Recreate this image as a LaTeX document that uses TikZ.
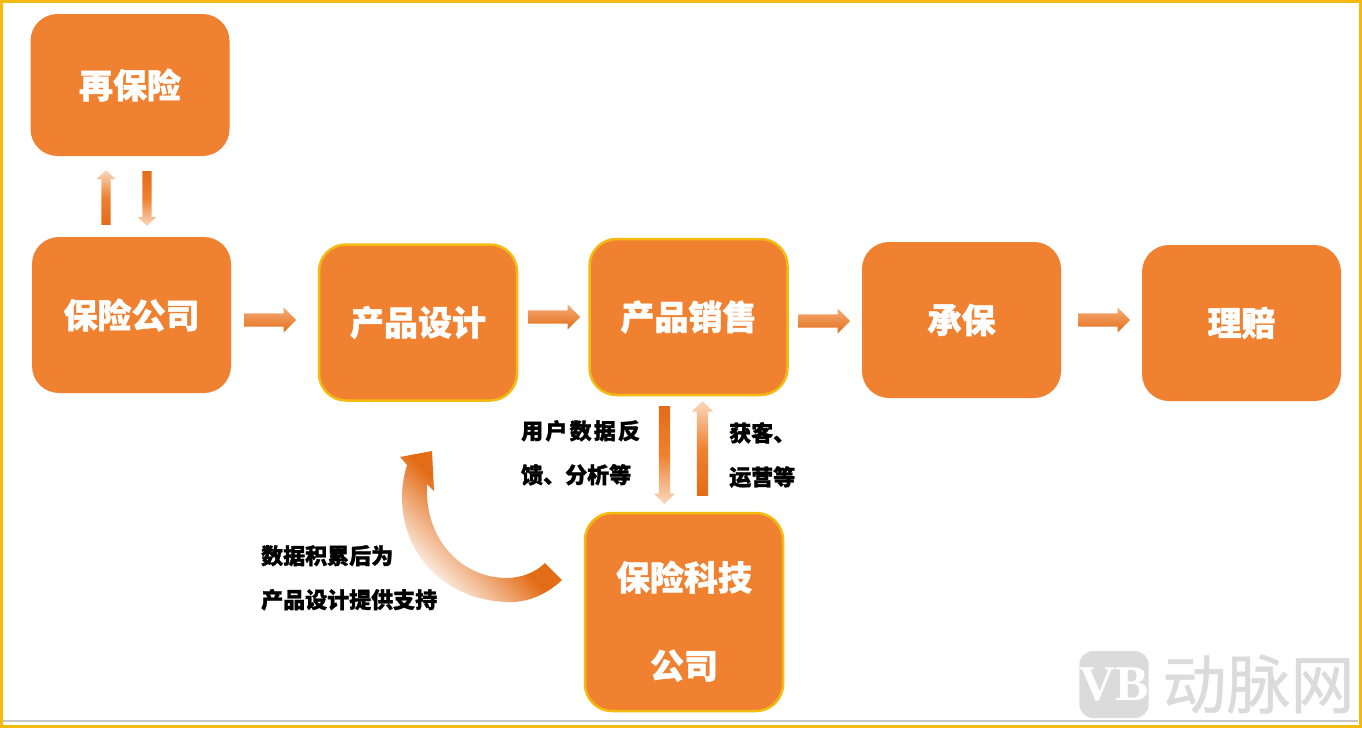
\documentclass[tikz,border=0pt]{standalone}
\usepackage{fontspec}
\setmainfont{Noto Sans CJK SC}[BoldFeatures={FakeBold=1.4}]
\newfontfamily\markfont{Liberation Serif}
\usetikzlibrary{shapes.arrows}
\definecolor{boxorange}{HTML}{EF8130}
\definecolor{rimyellow}{HTML}{F5BA12}
\definecolor{darkorange}{HTML}{E36C17}
\definecolor{paleorange}{HTML}{FAD9BF}
\definecolor{markgray}{HTML}{DBDBDB}
\begin{document}
\begin{tikzpicture}
  [x=1pt,y=-1pt]
  \tikzstyle{stage} = [rectangle,rounded corners=27pt,fill=boxorange,minimum width=199pt,
    text=white,font=\fontsize{34}{88}\selectfont\bfseries,align=center,inner sep=0pt]
  \tikzstyle{rim} = [draw=rimyellow,line width=2.5pt,minimum width=198pt]
  \tikzstyle{note} = [anchor=north west,align=left,inner sep=0pt,font=\fontsize{22}{44}\selectfont\bfseries]
  \tikzstyle{flow} = [single arrow,anchor=tail,inner xsep=0pt,inner ysep=6.5pt,single arrow head indent=0pt,minimum width=25pt,
    single arrow head extend=6pt,minimum height=52pt,top color=paleorange!50!boxorange,bottom color=darkorange]
  \tikzstyle{fadeup} = [top color=paleorange,bottom color=darkorange,middle color=boxorange]
  \tikzstyle{fadedown} = [top color=darkorange,bottom color=paleorange,middle color=boxorange]
  \tikzstyle{small} = [inner ysep=4.5pt,minimum width=18pt,single arrow head extend=4.5pt,minimum height=55pt]
  \tikzstyle{tall} = [inner ysep=5.5pt,minimum width=21pt,single arrow head extend=5pt]
  \useasboundingbox (0,0) rectangle (1362,728);
  % frame and the line above its lower edge
  \draw[gray!45,line width=1.5pt] (2,721) -- (1358,721);
  \draw[rimyellow,line width=3pt] (1.5,1.5) rectangle (1360.5,726.5);
  % watermark
  \node (logo) at (1114,684.5) [rectangle,rounded corners=14pt,fill=markgray,minimum width=68pt,minimum height=67pt,
    text=white,font=\fontsize{50}{50}\selectfont\markfont\bfseries,inner sep=0pt] {VB};
  \node (mark) at (1258.5,684) [text=markgray,font=\fontsize{64}{64}\selectfont\addfontfeature{FakeBold=0.7},inner sep=0pt] {动脉网};
  % stages
  \node (reins)   at (130,85)    [stage,minimum height=142pt] {再保险};
  \node (insurer) at (131.5,315) [stage,minimum height=156pt] {保险公司};
  \node (design)  at (418,322.5) [stage,rim,minimum height=156pt] {产品设计};
  \node (sales)   at (688.5,317) [stage,rim,minimum height=156pt] {产品销售};
  \node (under)   at (961.5,320) [stage,minimum height=156pt] {承保};
  \node (claims)  at (1241.5,323) [stage,minimum height=156pt] {理赔};
  \node (tech)    at (684,612)   [stage,rim,minimum height=198pt] {\rule{0pt}{48pt}保险科技\\公司};
  % block arrows along the chain
  \foreach \name /\x /\y in {flowa/244/320,flowb/528/317,flowc/798/321,flowd/1078/320}
    \node (\name) at (\x,\y) [flow] {};
  % block arrows between the stacked stages
  \node (reup)   at (106,225)   [flow,small,rotate=90,fadeup] {};
  \node (redown) at (147,171)   [flow,small,rotate=-90,fadedown] {};
  \node (feed)   at (664.5,406) [flow,tall,rotate=-90,minimum height=98pt,fadedown] {};
  \node (serve)  at (702.5,496) [flow,tall,rotate=90,minimum height=95pt,fadeup] {};
  % curved arrow from tech back to design
  \shade[top color=darkorange,bottom color=white,middle color=darkorange,shading angle=-45]
    (562,580) .. controls (545,596) and (525,603) .. (507,602)
    .. controls (445,600) and (402,555) .. (402,497)
    .. controls (402,485) and (404,475) .. (407,465)
    -- (400,457) -- (432,451) -- (434,491) -- (427,484)
    .. controls (424,540) and (462,578) .. (507,578)
    .. controls (520,578) and (535,573) .. (545,563) -- cycle;
  % labels
  \node (feedtext)  at (521,420) [note] {\addfontfeature{LetterSpace=10}用户数据反\\馈、分析等};
  \node (servetext) at (729,422) [note] {获客、\\运营等};
  \node (techtext)  at (261,545) [note] {数据积累后为\\产品设计提供支持};
\end{tikzpicture}
\end{document}
